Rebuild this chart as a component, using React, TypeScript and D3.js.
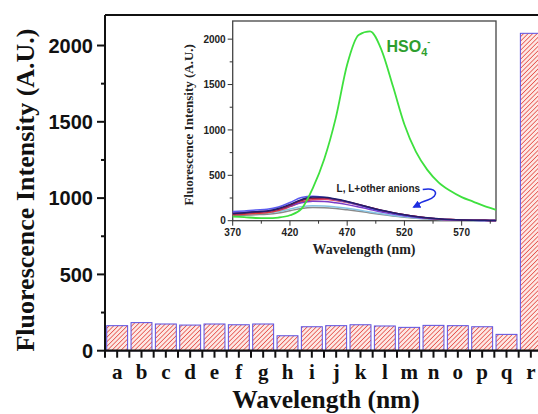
import React from "react";
import * as d3 from "d3";

const categories = ["a","b","c","d","e","f","g","h","i","j","k","l","m","n","o","p","q","r"];
const barValues = [164,184,175,168,175,170,175,98,157,164,170,162,153,166,164,157,107,2080];
const mainYTicks = [0,500,1000,1500,2000];

const wavelengths = [370,380,390,400,410,420,430,440,450,460,470,480,490,500,510,520,530,540,550,560,570,580,590,600];
const hso4 = [45,40,30,28,35,60,130,360,680,1130,1720,2045,2085,1880,1480,1060,760,560,420,330,260,210,160,120];
const navy = [80,88,98,108,135,180,232,260,258,238,212,180,146,114,88,66,47,32,21,13,8,5,4,3];
const maroon = [75,82,92,100,125,170,222,248,250,235,210,178,145,113,87,65,46,31,20,12,7,5,4,3];
const lavender = [100,108,118,125,150,200,255,268,255,232,205,172,138,106,80,58,41,27,17,10,6,4,3,2];
const purple = [85,92,100,105,125,160,198,215,212,197,177,152,124,97,74,55,39,26,17,10,6,4,3,2];
const red = [65,72,80,88,112,155,205,232,235,222,200,172,142,112,86,64,45,30,19,12,7,5,4,3];
const lightBlue = [70,74,80,85,100,128,155,165,163,152,136,117,96,76,58,43,31,21,14,9,5,3,2,2];
const gray = [55,60,66,72,86,110,135,145,143,134,120,104,86,68,52,39,28,19,12,8,5,3,2,2];
const pink = [78,85,95,103,128,172,225,245,244,230,206,176,144,113,87,65,46,31,20,12,7,5,4,3];
const insetXTicks = [370,420,470,520,570];
const insetYTicks = [0,500,1000,1500,2000];

const otherCurves = [
  { values: gray, color: "#8a8a8a" },
  { values: lightBlue, color: "#86c4e4" },
  { values: red, color: "#e23c3c" },
  { values: purple, color: "#7b3cc8" },
  { values: pink, color: "#e060b8" },
  { values: lavender, color: "#5b5bf0" },
  { values: maroon, color: "#8e1a3c" },
  { values: navy, color: "#1e1e70" },
];

// annotation anchors in data coordinates (nm, intensity)
const labelAnchor = [460.7, 319];
const hsoAnchor = [504.4, 1861];
const arrowPts = [[536, 344],[549, 371],[551, 272],[540.4, 228],[528.2, 151]];

export default function App() {
  const W = 538, H = 414;
  const left = 105, top = 15, bottom = 350.7;
  const x = d3.scaleBand<string>().domain(categories).range([left, 543]).paddingInner(0.14).paddingOuter(0.07);
  const y = d3.scaleLinear().domain([0, 2200]).range([bottom, top]);
  const step = x.step();

  const ix = d3.scaleLinear().domain([370, 600]).range([232.7, 496]);
  const iy = d3.scaleLinear().domain([0, 2200]).range([220.7, 21]);
  const line = (vals: number[]) =>
    d3.line<number>().x((_, i) => ix(wavelengths[i])).y((v) => iy(v)).curve(d3.curveMonotoneX)(vals) || "";

  const mainMinor = d3.range(250, 2200, 500);
  const insetYMinor = d3.range(250, 2200, 500);
  const insetXMinor = d3.range(395, 600, 50);

  const xTickPos: number[] = [];
  categories.forEach((c) => {
    const cx = (x(c) as number) + x.bandwidth() / 2;
    xTickPos.push(cx);
    xTickPos.push(cx - step / 2);
  });

  const a = arrowPts.map(([n, v]) => [ix(n), iy(v)]);
  const arrowPath = `M${a[0][0]},${a[0][1]} C${a[1][0]},${a[1][1]} ${a[2][0]},${a[2][1]} ${a[3][0]},${a[3][1]} S${a[4][0] + 6},${a[4][1] - 3} ${a[4][0]},${a[4][1]}`;

  return (
    <svg width={W} height={H} style={{ position: "absolute", left: 0, top: 0, background: "#fff" }}>
      <defs>
        <pattern id="hatch" patternUnits="userSpaceOnUse" width="3.2" height="3.2" patternTransform="rotate(45)">
          <rect width="3.2" height="3.2" fill="#fde8e4" />
          <line x1="0" y1="0" x2="0" y2="3.2" stroke="#e6544e" strokeWidth="1.6" />
        </pattern>
        <marker id="arrowhead" viewBox="0 0 10 10" refX="8" refY="5" markerWidth="5" markerHeight="5" orient="auto">
          <path d="M0,0 L10,5 L0,10 z" fill="#1e2ee0" />
        </marker>
      </defs>

      {/* bars */}
      {categories.map((c, i) => (
        <rect key={c} x={x(c)} y={y(barValues[i])} width={x.bandwidth()} height={bottom - y(barValues[i])}
          fill="url(#hatch)" stroke="#5b50e0" strokeWidth={1} />
      ))}

      {/* main frame */}
      <line x1={left} y1={top} x2={W} y2={top} stroke="#111" strokeWidth={2} />
      <line x1={left} y1={top} x2={left} y2={bottom} stroke="#111" strokeWidth={2} />
      <line x1={left} y1={bottom} x2={W} y2={bottom} stroke="#111" strokeWidth={2.2} />

      {/* main y ticks */}
      {mainYTicks.map((t) => (
        <g key={t}>
          <line x1={left - 8} x2={left} y1={y(t)} y2={y(t)} stroke="#111" strokeWidth={2} />
          <text x={93} y={y(t)} dy="0.36em" textAnchor="end" fontFamily="Liberation Sans, Arial, sans-serif"
            fontWeight="bold" fontSize={20} fill="#111">{t}</text>
        </g>
      ))}
      {mainMinor.map((t) => (
        <line key={t} x1={left - 4} x2={left} y1={y(t)} y2={y(t)} stroke="#111" strokeWidth={2} />
      ))}

      {/* main x ticks */}
      {xTickPos.map((p, i) => (
        <line key={i} x1={p} x2={p} y1={bottom} y2={bottom + 7} stroke="#111" strokeWidth={2} />
      ))}
      {categories.map((c) => (
        <text key={c} x={(x(c) as number) + x.bandwidth() / 2} y={379} textAnchor="middle"
          fontFamily="Liberation Serif, Times New Roman, serif" fontWeight="bold" fontSize={21} fill="#111">{c}</text>
      ))}

      <text x={326} y={408} textAnchor="middle" fontFamily="Liberation Serif, Times New Roman, serif"
        fontWeight="bold" fontSize={25.5} fill="#111">Wavelength (nm)</text>
      <text transform={`translate(34,190) rotate(-90)`} textAnchor="middle"
        fontFamily="Liberation Serif, Times New Roman, serif" fontWeight="bold" fontSize={26} fill="#111">
        Fluorescence Intensity (A.U.)</text>

      {/* inset */}
      <g>
        <rect x={ix(370)} y={iy(2200)} width={ix(600) - ix(370)} height={iy(0) - iy(2200)} fill="#fff" stroke="#444" strokeWidth={1.3} />
        {otherCurves.map((cv, i) => (
          <path key={i} d={line(cv.values)} fill="none" stroke={cv.color} strokeWidth={1.5} />
        ))}
        <path d={line(hso4)} fill="none" stroke="#3ee03e" strokeWidth={1.8} />

        {insetYTicks.map((t) => (
          <g key={t}>
            <line x1={ix(370) - 5} x2={ix(370)} y1={iy(t)} y2={iy(t)} stroke="#333" strokeWidth={1} />
            <text x={ix(370) - 7} y={iy(t)} dy="0.36em" textAnchor="end" fontFamily="Liberation Sans, Arial, sans-serif"
              fontWeight="bold" fontSize={10} fill="#222">{t}</text>
          </g>
        ))}
        {insetYMinor.map((t) => (
          <line key={t} x1={ix(370) - 3} x2={ix(370)} y1={iy(t)} y2={iy(t)} stroke="#333" strokeWidth={1} />
        ))}
        {insetXTicks.map((t) => (
          <g key={t}>
            <line x1={ix(t)} x2={ix(t)} y1={iy(0)} y2={iy(0) + 5} stroke="#333" strokeWidth={1} />
            <text x={ix(t)} y={236} textAnchor="middle" fontFamily="Liberation Sans, Arial, sans-serif"
              fontWeight="bold" fontSize={10} fill="#222">{t}</text>
          </g>
        ))}
        {insetXMinor.map((t) => (
          <line key={t} x1={ix(t)} x2={ix(t)} y1={iy(0)} y2={iy(0) + 3} stroke="#333" strokeWidth={1} />
        ))}
        <text x={364} y={254} textAnchor="middle" fontFamily="Liberation Serif, Times New Roman, serif"
          fontWeight="bold" fontSize={14} fill="#222">Wavelength (nm)</text>
        <text transform={`translate(193,${(iy(0) + iy(2200)) / 2 + 4}) rotate(-90)`} textAnchor="middle"
          fontFamily="Liberation Serif, Times New Roman, serif" fontWeight="bold" fontSize={13} fill="#222">
          Fluorescence Intensity (A.U.)</text>

        <text x={ix(hsoAnchor[0])} y={iy(hsoAnchor[1])} fontFamily="Liberation Sans, Arial, sans-serif"
          fontWeight="bold" fontSize={16} fill="#2e9e2e">HSO<tspan fontSize={11} dy={4}>4</tspan><tspan fontSize={9} dy={-11}>-</tspan></text>
        <text x={ix(labelAnchor[0])} y={iy(labelAnchor[1])} fontFamily="Liberation Sans, Arial, sans-serif"
          fontWeight="bold" fontSize={10} fill="#222">L, L+other anions</text>
        <path d={arrowPath} fill="none" stroke="#1e2ee0" strokeWidth={1.6} markerEnd="url(#arrowhead)" />
      </g>
    </svg>
  );
}
